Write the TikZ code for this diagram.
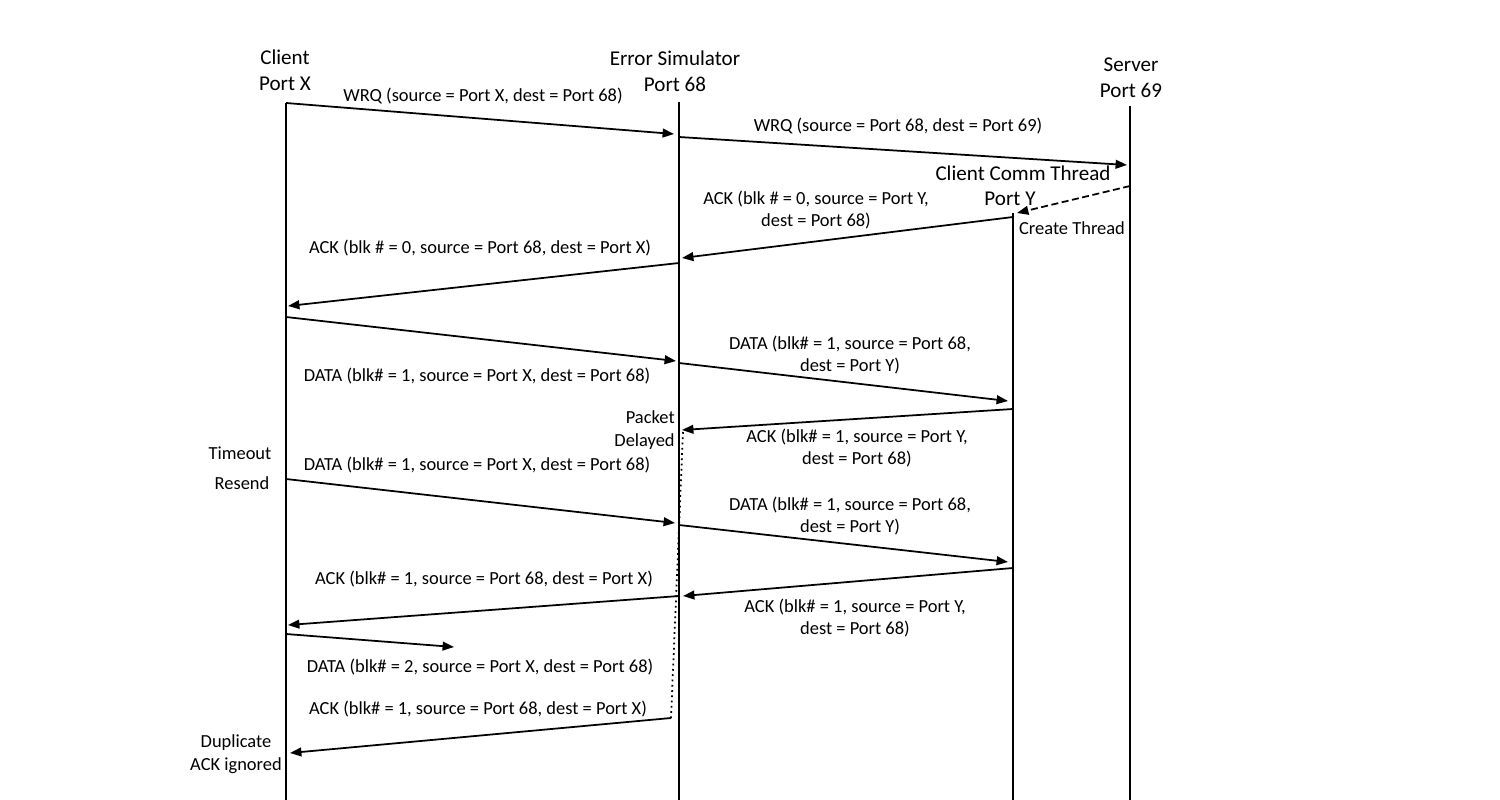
\documentclass[tikz,border=0pt]{standalone}
\usepackage{fontspec}
\setmainfont{Carlito}
\usetikzlibrary{arrows.meta}
\begin{document}
\begin{tikzpicture}[x=0.02cm,y=-0.02cm,
  life/.style={line width=1pt},
  msg/.style={line width=1pt,-{Triangle[length=6.5pt,width=5pt]}},
  dmsg/.style={line width=1pt,dash pattern=on 4pt off 2pt,-{Triangle[length=6.5pt,width=5pt]}},
  lbl/.style={inner sep=0pt,align=center,font=\fontsize{10.5}{13}\selectfont},
  hdr/.style={inner sep=0pt,align=center,font=\fontsize{12}{14.7}\selectfont},
  note/.style={inner sep=0pt,font=\fontsize{10.5}{13}\selectfont}]
\useasboundingbox (0,0) rectangle (1500,800);
% lifeline coordinates
\coordinate (ct) at (286,103); \coordinate (cb) at (286,800);
\coordinate (et) at (679,102); \coordinate (eb) at (679,800);
\coordinate (yt) at (1013,213); \coordinate (yb) at (1013,800);
\coordinate (st) at (1130,106); \coordinate (sb) at (1130,800);
\draw[life] (ct) -- (cb);
\draw[life] (et) -- (eb);
\draw[life] (yt) -- (yb);
\draw[life] (st) -- (sb);
% headers
\node[hdr] (hc) at (285,70) {Client\\Port X};
\node[hdr] (he) at (675,71) {Error Simulator\\Port 68};
\node[hdr] (hs) at (1131,78) {Server\\Port 69};
\node[hdr] (hy1) at (1023,173) {Client Comm Thread};
\node[hdr] (hy2) at (1010,199) {Port Y};
% message endpoints
\coordinate (m1s) at (286,103); \coordinate (m1e) at (674,134);
\coordinate (m2s) at (679,137); \coordinate (m2e) at (1127,165);
\coordinate (m3s) at (1130,186); \coordinate (m3e) at (1017,213);
\coordinate (m4s) at (1013,217); \coordinate (m4e) at (682,258);
\coordinate (m5s) at (679,263); \coordinate (m5e) at (288,306);
\coordinate (m6s) at (286,317); \coordinate (m6e) at (676,361);
\coordinate (m7s) at (679,363); \coordinate (m7e) at (1008,401);
\coordinate (m8s) at (1013,409); \coordinate (m8e) at (682,430);
\coordinate (m9s) at (286,479); \coordinate (m9e) at (675,523);
\coordinate (m10s) at (679,525); \coordinate (m10e) at (1008,562);
\coordinate (m11s) at (1013,568); \coordinate (m11e) at (683,596);
\coordinate (m12s) at (679,596); \coordinate (m12e) at (288,625);
\coordinate (m13s) at (286,634); \coordinate (m13e) at (454,647);
\coordinate (m14s) at (671,718); \coordinate (m14e) at (290,753);
\coordinate (d1) at (683,432);
% messages
\draw[msg] (m1s) -- (m1e);
\draw[msg] (m2s) -- (m2e);
\draw[dmsg] (m3s) -- (m3e);
\draw[msg] (m4s) -- (m4e);
\draw[msg] (m5s) -- (m5e);
\draw[msg] (m6s) -- (m6e);
\draw[msg] (m7s) -- (m7e);
\draw[msg] (m8s) -- (m8e);
\draw[msg] (m9s) -- (m9e);
\draw[msg] (m10s) -- (m10e);
\draw[msg] (m11s) -- (m11e);
\draw[msg] (m12s) -- (m12e);
\draw[msg] (m13s) -- (m13e);
\draw[msg] (m14s) -- (m14e);
\draw[line width=1pt,dotted] (d1) -- (m14s);
% labels
\node[lbl] (l1) at (483,96) {WRQ (source = Port X, dest = Port 68)};
\node[lbl] (l2) at (898,126) {WRQ (source = Port 68, dest = Port 69)};
\node[lbl] (l3) at (1072,228) {Create Thread};
\node[lbl] (l4) at (816,210) {ACK (blk \# = 0, source = Port Y,\\dest = Port 68)};
\node[lbl] (l5) at (480,248) {ACK (blk \# = 0, source = Port 68, dest = Port X)};
\node[lbl] (l6) at (477,376) {DATA (blk\# = 1, source = Port X, dest = Port 68)};
\node[lbl] (l7) at (850,355) {DATA (blk\# = 1, source = Port 68,\\dest = Port Y)};
\node[lbl] (l8) at (857,448) {ACK (blk\# = 1, source = Port Y,\\dest = Port 68)};
\node[lbl,align=right,anchor=east] (l9) at (675,430) {Packet\\Delayed};
\node[lbl] (l10) at (240,453) {Timeout};
\node[lbl] (l11) at (242,483) {Resend};
\node[lbl] (l12) at (477,465) {DATA (blk\# = 1, source = Port X, dest = Port 68)};
\node[lbl] (l13) at (850,516) {DATA (blk\# = 1, source = Port 68,\\dest = Port Y)};
\node[lbl] (l14) at (855,618) {ACK (blk\# = 1, source = Port Y,\\dest = Port 68)};
\node[lbl] (l15) at (484,579) {ACK (blk\# = 1, source = Port 68, dest = Port X)};
\node[lbl] (l16) at (480,667) {DATA (blk\# = 2, source = Port X, dest = Port 68)};
\node[lbl] (l17) at (478,709) {ACK (blk\# = 1, source = Port 68, dest = Port X)};
\node[lbl] (l18) at (236,754) {Duplicate\\ACK ignored};
\end{tikzpicture}
\end{document}
